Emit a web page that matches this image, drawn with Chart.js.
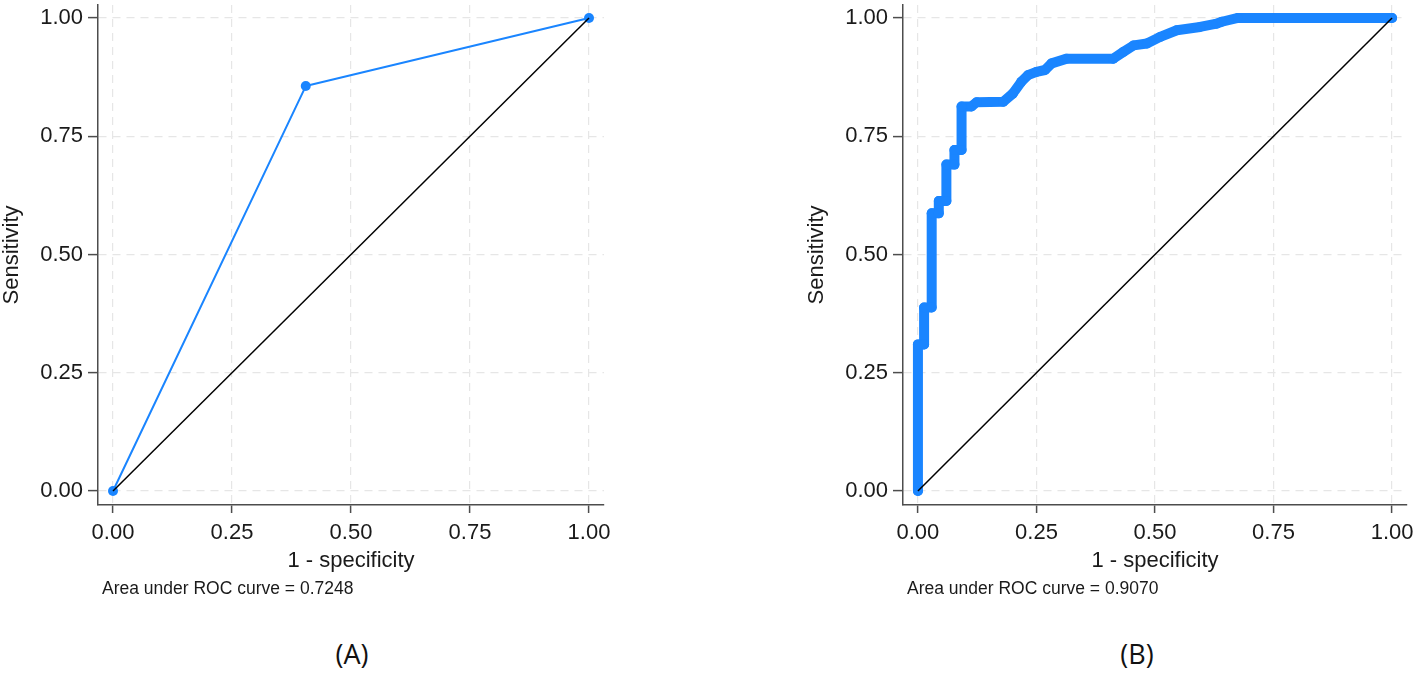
<!DOCTYPE html>
<html><head><meta charset="utf-8">
<script src="https://cdn.jsdelivr.net/npm/chart.js@4.4.0/dist/chart.umd.min.js"></script>
<style>
html,body{margin:0;padding:0;background:#fff;width:1417px;height:673px;overflow:hidden;position:relative;font-family:"Liberation Sans",Arial,sans-serif}
.box{position:absolute;top:0;height:580px}
#boxA{left:0;width:700px}
#boxB{left:805px;width:612px}
.auc{position:absolute;font-size:17.5px;color:#1a1a1a;line-height:1;white-space:nowrap}
.lab{position:absolute;font-family:"Open Sans",sans-serif;font-size:27px;line-height:1;color:#111;transform:translate(-50%,-50%);white-space:nowrap}
</style></head><body>
<div class="box" id="boxA"><canvas id="cA"></canvas></div>
<div class="box" id="boxB"><canvas id="cB"></canvas></div>
<div class="auc" id="aucA" style="left:102px;top:580px"></div>
<div class="auc" id="aucB" style="left:907px;top:580px"></div>
<div class="lab" id="labA" style="left:352px;top:653px"></div>
<div class="lab" id="labB" style="left:1137px;top:653px"></div>
<script>
// ---- data ----
const tickValues = [0, 0.25, 0.5, 0.75, 1];
const tickLabels = ['0.00', '0.25', '0.50', '0.75', '1.00'];
const refX = [0, 1];
const refY = [0, 1];
const rocA_x = [0, 0.405, 1];
const rocA_y = [0, 0.856, 1];
const rocB_x = [0, 0, 0.013, 0.013, 0.029, 0.029, 0.044, 0.044, 0.060, 0.060, 0.077, 0.077, 0.092, 0.092,
  0.113, 0.124, 0.180, 0.200, 0.218, 0.232, 0.250, 0.268, 0.282, 0.314, 0.412, 0.433, 0.455, 0.483,
  0.511, 0.546, 0.595, 0.630, 0.641, 0.675, 1];
const rocB_y = [0, 0.310, 0.310, 0.388, 0.388, 0.587, 0.587, 0.613, 0.613, 0.690, 0.690, 0.721, 0.721, 0.813,
  0.813, 0.822, 0.823, 0.840, 0.865, 0.879, 0.886, 0.890, 0.904, 0.914, 0.914, 0.928, 0.942, 0.946,
  0.960, 0.974, 0.981, 0.988, 0.992, 1.000, 1];
const aucLabels = ['Area under ROC curve = 0.7248', 'Area under ROC curve = 0.9070'];
const panelLabels = ['(A)', '(B)'];
const xTitle = '1 - specificity';
const yTitle = 'Sensitivity';

document.getElementById('aucA').textContent = aucLabels[0];
document.getElementById('aucB').textContent = aucLabels[1];
document.getElementById('labA').textContent = panelLabels[0];
document.getElementById('labB').textContent = panelLabels[1];

const BLUE = '#1a85ff';
const AXIS = '#4d4d4d';
const TXT = '#1a1a1a';
const pts = (xs, ys) => xs.map((x, i) => ({x: x, y: ys[i]}));

function axis(title, isX) {
  return {
    type: 'linear',
    min: isX ? -0.0315 : -0.0295,
    max: isX ? 1.0315 : 1.0274,
    afterBuildTicks: s => { s.ticks = tickValues.map(v => ({value: v})); },
    afterFit: s => {
      if (isX) s.height = 75; else s.width = 98;
      s.paddingTop = 0; s.paddingBottom = 0; s.paddingLeft = 0; s.paddingRight = 0;
    },
    ticks: {
      callback: v => tickLabels[tickValues.indexOf(v)],
      font: {family: 'Liberation Sans', size: 22},
      color: TXT,
      padding: isX ? 7 : 5,
      autoSkip: false,
      maxRotation: 0,
      minRotation: 0
    },
    grid: {
      color: '#e6e6e6',
      lineWidth: 1.2,
      drawTicks: true,
      tickLength: isX ? 8 : 10,
      tickColor: AXIS,
      tickWidth: 1.5,
      tickBorderDash: [],
      borderDash: [8, 6]
    },
    border: {display: true, color: AXIS, width: 1.5, dash: [8, 6]},
    title: {
      display: true,
      text: title,
      color: TXT,
      font: {family: 'Liberation Sans', size: 22, lineHeight: 1.1},
      padding: isX ? {top: 0, bottom: 7} : {top: 0, bottom: 0}
    }
  };
}

function makeChart(id, xs, ys, lineW, ptR, padRight) {
  return new Chart(document.getElementById(id), {
    type: 'scatter',
    data: {
      datasets: [
        {data: pts(refX, refY), showLine: true, borderColor: '#000', borderWidth: 1.5, pointRadius: 0},
        {data: pts(xs, ys), showLine: true, borderColor: BLUE, borderWidth: lineW,
         borderJoinStyle: 'round', borderCapStyle: 'round',
         pointRadius: ptR, pointBackgroundColor: BLUE, pointBorderWidth: 0}
      ]
    },
    options: {
      responsive: true,
      maintainAspectRatio: false,
      animation: false,
      events: [],
      layout: {padding: {top: 3, left: 0, bottom: 0, right: padRight}},
      plugins: {legend: {display: false}, tooltip: {enabled: false}},
      scales: {
        x: axis(xTitle, true),
        y: axis(yTitle, false)
      }
    }
  });
}

makeChart('cA', rocA_x, rocA_y, 2, 5, 96);
makeChart('cB', rocB_x, rocB_y, 10, 5, 10);
</script>
</body></html>
